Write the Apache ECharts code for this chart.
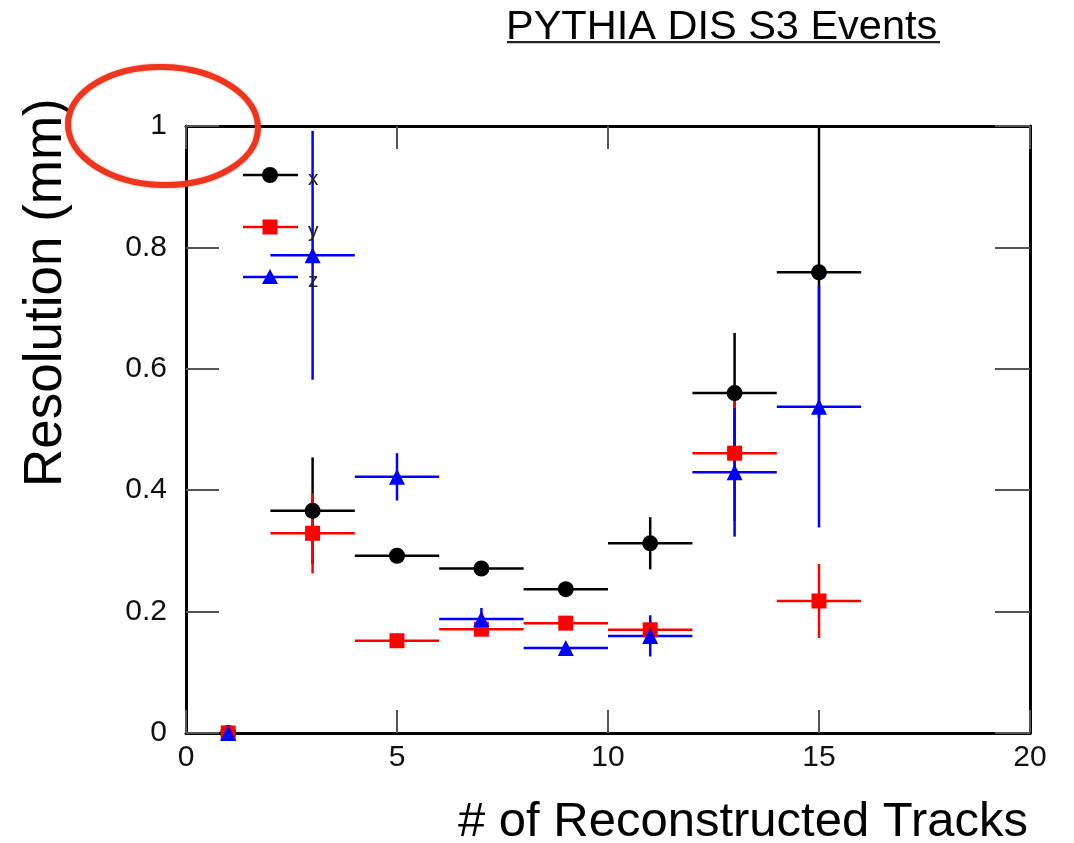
<!DOCTYPE html>
<html>
<head>
<meta charset="utf-8">
<title>PYTHIA DIS S3 Events</title>
<script src="https://cdn.jsdelivr.net/npm/echarts@6/dist/echarts.min.js"></script>
<style>
  html, body { margin: 0; padding: 0; background: #fff; }
  #chart { width: 1074px; height: 843px; }
</style>
</head>
<body>
<div id="chart"></div>
<script>
// Vertex resolution vs. number of reconstructed tracks (bins of width 2)
const trackBins = [1, 3, 5, 7, 9, 11, 13, 15];
const binHalfWidth = [0, 1, 1, 1, 1, 1, 1, 1];

const resX = [0, 0.366, 0.292, 0.271, 0.237, 0.3125, 0.560, 0.759];
const errX = [0, 0.088, 0.012, 0.008, 0.008, 0.043, 0.099, 0.240];

const resY = [0, 0.329, 0.152, 0.171, 0.181, 0.170, 0.461, 0.2175];
const errY = [0, 0.066, 0.012, 0.010, 0.010, 0.015, 0.112, 0.061];

const resZ = [0, 0.787, 0.422, 0.188, 0.140, 0.160, 0.4295, 0.5376];
const errZ = [0, 0.205, 0.039, 0.018, 0.008, 0.034, 0.106, 0.199];

const xTicks = [0, 5, 10, 15, 20];
const yTicks = [0, 0.2, 0.4, 0.6, 0.8, 1];

const FONT = '"Liberation Sans", Arial, Helvetica, sans-serif';

function rows(vals, errs) {
  return trackBins.map((b, i) => [b, vals[i], binHalfWidth[i], errs[i]]);
}

function errorBars(color) {
  return function (params, api) {
    const x = api.value(0), y = api.value(1), dx = api.value(2), dy = api.value(3);
    const cs = params.coordSys;
    const clampY = v => Math.max(cs.y, Math.min(cs.y + cs.height, v));
    const c = api.coord([x, y]);
    const l = api.coord([x - dx, y]);
    const r = api.coord([x + dx, y]);
    const t = api.coord([x, y + dy]);
    const b = api.coord([x, y - dy]);
    const style = { stroke: color, lineWidth: 2.5 };
    const children = [];
    if (dx > 0) children.push({ type: 'line', shape: { x1: l[0], y1: c[1], x2: r[0], y2: c[1] }, style });
    if (dy > 0) children.push({ type: 'line', shape: { x1: c[0], y1: clampY(t[1]), x2: c[0], y2: clampY(b[1]) }, style });
    return { type: 'group', children };
  };
}

const seriesDefs = [
  { name: 'x', color: '#000000', symbol: 'circle', size: 16, vals: resX, errs: errX },
  { name: 'y', color: '#ff0000', symbol: 'rect', size: 15, vals: resY, errs: errY },
  { name: 'z', color: '#0000ff', symbol: 'triangle', size: 16, vals: resZ, errs: errZ }
];

const series = [];
seriesDefs.forEach(d => {
  const data = rows(d.vals, d.errs);
  series.push({
    type: 'custom', name: d.name + ' err', xAxisIndex: 0, yAxisIndex: 0,
    renderItem: errorBars(d.color), data: data, silent: true, animation: false
  });
  series.push({
    type: 'scatter', name: d.name, xAxisIndex: 0, yAxisIndex: 0,
    symbol: d.symbol, symbolSize: d.size,
    itemStyle: { color: d.color, opacity: 1 },
    data: data.map(r => [r[0], r[1]]), animation: false
  });
});

// Legend: line + marker + label
const legendGraphics = [];
const legendRows = [175, 227, 277];
seriesDefs.forEach((d, i) => {
  const yy = legendRows[i];
  legendGraphics.push({ type: 'line', shape: { x1: 243, y1: yy, x2: 298, y2: yy }, style: { stroke: d.color, lineWidth: 2.5 }, z: 10 });
  const marker = d.symbol === 'circle'
    ? { type: 'circle', shape: { cx: 270, cy: yy, r: 8 } }
    : d.symbol === 'rect'
      ? { type: 'rect', shape: { x: 262.5, y: yy - 7.5, width: 15, height: 15 } }
      : { type: 'polygon', shape: { points: [[270, yy - 8], [278, yy + 7], [262, yy + 7]] } };
  marker.style = { fill: d.color };
  marker.z = 11;
  legendGraphics.push(marker);
  legendGraphics.push({
    type: 'text', x: 308, y: yy + 4, z: 11,
    style: { text: d.name, font: '21px ' + FONT, fill: '#222', textVerticalAlign: 'middle' }
  });
});

const lineStyle = { color: '#000', width: 3 };
const tickStyle = { color: '#555', width: 2 };

function axis(extra) {
  return Object.assign({
    type: 'value', min: 0, splitLine: { show: false }, minorTick: { show: false },
    axisLine: { show: true, onZero: false, lineStyle: lineStyle }
  }, extra);
}

const chart = echarts.init(document.getElementById('chart'), null, { renderer: 'canvas' });
chart.setOption({
  backgroundColor: '#ffffff',
  animation: false,
  grid: { left: 186, right: 44, top: 126, bottom: 110, containLabel: false },
  xAxis: [
    axis({
      position: 'bottom', max: 20, interval: 5,
      axisTick: { show: true, inside: true, length: 23, lineStyle: tickStyle },
      axisLabel: { show: true, margin: 10, fontSize: 30, color: '#111', fontFamily: FONT,
        formatter: v => xTicks.includes(v) ? String(v) : '' }
    }),
    axis({
      position: 'top', max: 20, interval: 5,
      axisTick: { show: true, inside: true, length: 23, lineStyle: tickStyle },
      axisLabel: { show: false }
    })
  ],
  yAxis: [
    axis({
      position: 'left', max: 1, interval: 0.2,
      axisTick: { show: true, inside: true, length: 33, lineStyle: tickStyle },
      axisLabel: { show: true, margin: 19, fontSize: 30, color: '#111', fontFamily: FONT,
        formatter: v => {
          const t = yTicks.find(k => Math.abs(k - v) < 1e-9);
          return t === undefined ? '' : String(t);
        } }
    }),
    axis({
      position: 'right', max: 1, interval: 0.2,
      axisTick: { show: true, inside: true, length: 35, lineStyle: tickStyle },
      axisLabel: { show: false }
    })
  ],
  series: series,
  graphic: [
    // title with underline
    { type: 'text', x: 506, y: 7, z: 20,
      style: { text: 'PYTHIA DIS S3 Events', font: '41.5px ' + FONT, fill: '#000' } },
    { type: 'rect', shape: { x: 507, y: 41, width: 433, height: 2.2 }, style: { fill: '#222' }, z: 20 },
    // axis titles
    { type: 'text', x: 1028, y: 798, z: 20,
      style: { text: '# of Reconstructed Tracks', font: '49px ' + FONT, fill: '#000', textAlign: 'right' } },
    { type: 'text', x: 20, y: 487, rotation: Math.PI / 2, z: 20,
      style: { text: 'Resolution (mm)', font: '53px ' + FONT, fill: '#000' } },
    // hand-drawn highlight around the top tick label
    { type: 'ellipse', shape: { cx: 163, cy: 126, rx: 95, ry: 59 }, rotation: -0.03, originX: 163, originY: 126, z: 30,
      style: { fill: 'none', stroke: '#f0351f', lineWidth: 6, shadowBlur: 2, shadowColor: 'rgba(240,53,31,0.6)' } }
  ].concat(legendGraphics)
});
</script>
</body>
</html>
